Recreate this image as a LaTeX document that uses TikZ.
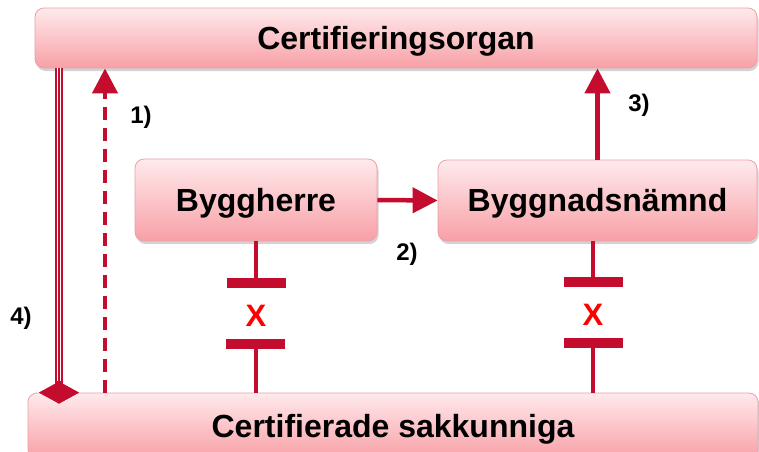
\documentclass[tikz,border=0pt]{standalone}
\usepackage{fontspec}
\setmainfont{Liberation Sans}
\usetikzlibrary{arrows.meta,shapes.geometric,shadows}
\definecolor{cred}{RGB}{196,12,46}
\definecolor{boxtop}{RGB}{255,234,236}
\definecolor{boxbot}{RGB}{247,160,166}
\definecolor{boxline}{RGB}{236,160,168}
\definecolor{xred}{RGB}{255,0,0}
\begin{document}
\begin{tikzpicture}[x=1pt,y=-1pt,
  box/.style={draw=boxline, line width=0.8pt, rounded corners=9pt,
    top color=boxtop, bottom color=boxbot, inner sep=0pt,
    font=\fontsize{32}{38}\selectfont\bfseries,
    text height=29pt, text depth=6.8pt,
    drop shadow={opacity=0.35, shadow xshift=1.5pt, shadow yshift=-3pt}},
  conn/.style={draw=cred, line width=4.5pt},
  tip/.style={-{Triangle[width=25pt,length=25pt]}},
  tbar/.style={fill=cred, minimum width=59pt, minimum height=10pt, inner sep=0pt},
  xlab/.style={text=xred, font=\fontsize{31}{36}\selectfont\bfseries, inner sep=0pt},
  numlab/.style={font=\fontsize{24}{28}\selectfont\bfseries, inner sep=0pt},
  dia/.style={diamond, fill=cred, aspect=1.8, minimum width=40pt, minimum height=22pt, inner sep=0pt}
]
\useasboundingbox (0,0) rectangle (759,451);

\node[box, minimum width=722pt, minimum height=60pt] (cert) at (396,38) {Certifieringsorgan};
\node[box, minimum width=242pt, minimum height=82pt] (bh) at (256,200) {Byggherre};
\node[box, minimum width=319pt, minimum height=81pt] (bn) at (597.5,200.5) {Byggnadsnämnd};
\node[box, minimum width=730pt, minimum height=66pt] (sak) at (393,426) {Certifierade sakkunniga};

% 2) Byggherre -> Byggnadsnämnd
\draw[conn, tip] (bh.east) -- (bn.west);
% 3) Byggnadsnämnd -> Certifieringsorgan
\draw[conn, tip] (bn.north) -- (bn.north |- cert.south);

% 1) dashed arrow
\coordinate (c1) at (105,0);
\draw[conn, tip, dash pattern=on 13pt off 8pt] (sak.north -| c1) -- (cert.south -| c1);

% 4) triple line with diamond
\coordinate (c4) at (59,0);
\node[dia] (dia) at (sak.north -| c4) {};
\draw[cred, line width=7.5pt] (cert.south -| c4) -- (dia.center);
\draw[white, line width=4.5pt] (cert.south -| c4) -- (dia.north);
\draw[cred, line width=2pt] (cert.south -| c4) -- (dia.north);
\node[dia] at (dia.center) {};

% T-bars left
\node[tbar] (b1) at (256,283) {};
\node[tbar] (b2) at (255,344) {};
\draw[conn] (bh.south -| b1) -- (b1.center);
\draw[conn] (b2.center -| b1) -- (sak.north -| b1);
\node[xlab] (x1) at (256,316) {X};

% T-bars right
\node[tbar] (b3) at (593,282) {};
\node[tbar] (b4) at (593,343) {};
\draw[conn] (bn.south -| b3) -- (b3.center);
\draw[conn] (b4.center) -- (sak.north -| b4);
\node[xlab] (x2) at (593,315) {X};

% labels
\node[numlab] (l1) at (141,117) {1)};
\node[numlab] (l2) at (407,254) {2)};
\node[numlab] (l3) at (639,105) {3)};
\node[numlab] (l4) at (21,318) {4)};
\end{tikzpicture}
\end{document}
